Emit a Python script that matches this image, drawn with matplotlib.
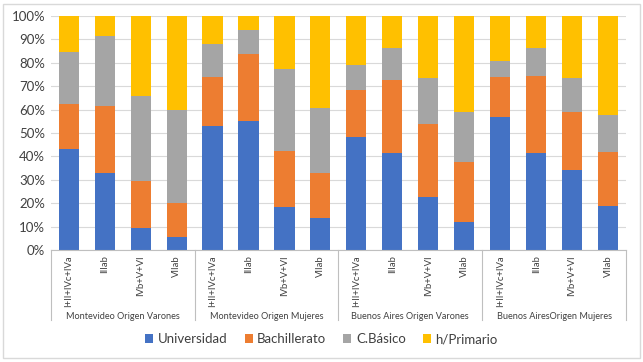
import matplotlib.pyplot as plt
import numpy as np
from matplotlib.patches import Rectangle

# stacked shares (%), bottom to top
categories = ['I+II+IVc+IVa', 'IIIab', 'IVb+V+VI', 'VIIab'] * 4
groups = ['Montevideo Origen Varones', 'Montevideo Origen Mujeres',
          'Buenos Aires Origen Varones', 'Buenos AiresOrigen Mujeres']
universidad = [43.0, 32.8, 9.4, 5.4, 53.0, 55.3, 18.5, 13.7,
               48.2, 41.3, 22.8, 12.0, 56.7, 41.3, 34.2, 18.9]
bachillerato = [19.4, 28.7, 20.0, 14.6, 20.8, 28.5, 23.9, 19.1,
                20.2, 31.3, 31.0, 25.6, 17.1, 33.1, 24.9, 23.0]
cbasico = [22.1, 30.1, 36.3, 39.8, 14.2, 10.2, 34.8, 27.9,
           10.8, 13.9, 19.8, 21.4, 7.0, 12.1, 14.3, 15.7]
primario = [15.5, 8.4, 34.3, 40.2, 12.0, 6.0, 22.8, 39.3,
            20.8, 13.5, 26.4, 41.0, 19.2, 13.5, 26.6, 42.4]

series = [('Universidad', universidad, '#4472C4'),
          ('Bachillerato', bachillerato, '#ED7D31'),
          ('C.Básico', cbasico, '#A5A5A5'),
          ('h/Primario', primario, '#FFC000')]

plt.rcParams['font.family'] = ['Lato', 'DejaVu Sans']

fig = plt.figure(figsize=(6.43, 3.62), dpi=100)
ax = fig.add_axes([0.0789, 0.3094, 0.8947, 0.6464])

x = np.arange(len(categories))
bottom = np.zeros(len(categories))
for name, vals, col in series:
    ax.bar(x, vals, bottom=bottom, width=0.56, color=col, label=name, zorder=2)
    bottom += np.array(vals)

ax.set_xlim(-0.5, len(categories) - 0.5)
ax.set_ylim(0, 100)
ax.set_yticks(range(0, 101, 10))
ax.set_yticklabels([f'{v}%' for v in range(0, 101, 10)], fontsize=9.5, color='#404040')
ax.grid(axis='y', color='#d9d9d9', linewidth=0.8, zorder=0)
for s in ['top', 'right', 'left']:
    ax.spines[s].set_visible(False)
ax.spines['bottom'].set_color('#bfbfbf')
ax.tick_params(axis='y', length=0, pad=4)
ax.tick_params(axis='x', length=0, pad=4)
ax.set_xticks(x)
ax.set_xticklabels(categories, rotation=90, fontsize=6.8, color='#404040', va='top')

# group separators and group labels
trans = ax.get_xaxis_transform()
for b in np.arange(-0.5, len(categories), 4):
    ax.plot([b, b], [0, -0.3], transform=trans, color='#bfbfbf', linewidth=0.8, clip_on=False)
for i, g in enumerate(groups):
    ax.text(i * 4 + 1.5, -0.285, g, transform=trans, ha='center', va='center',
            fontsize=6.6, color='#404040')

fig.legend(loc='center', bbox_to_anchor=(0.5, 0.063), ncol=4, frameon=False,
           fontsize=9.5, handlelength=0.6, handleheight=0.6, columnspacing=1.3,
           handletextpad=0.35, labelcolor='#404040')

fig.patches.append(Rectangle((0.004, 0.01), 0.992, 0.98, transform=fig.transFigure,
                             fill=False, edgecolor='#d9d9d9', linewidth=1))

fig.savefig('out.png', dpi=100)
